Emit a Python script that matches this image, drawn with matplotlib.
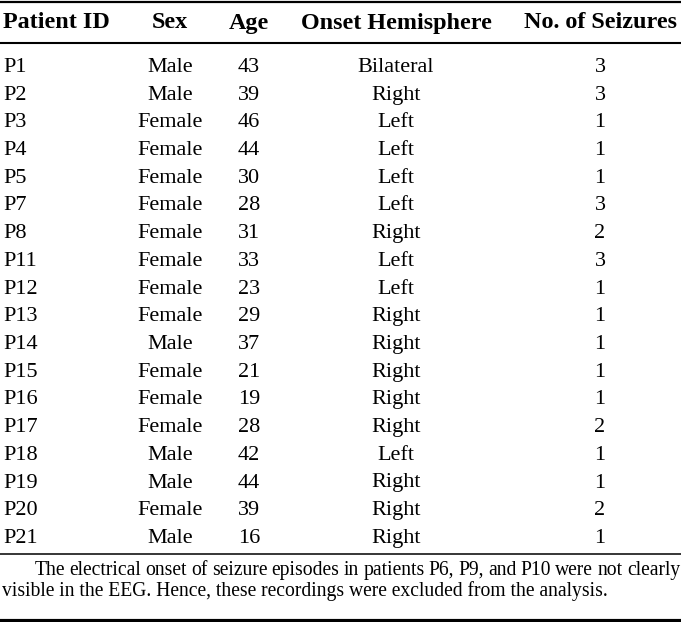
import matplotlib
matplotlib.use("Agg")
import matplotlib.pyplot as plt

# table data
header = ["Patient ID", "Sex", "Age", "Onset Hemisphere", "No. of Seizures"]
patients = ["P1", "P2", "P3", "P4", "P5", "P7", "P8", "P11", "P12", "P13",
            "P14", "P15", "P16", "P17", "P18", "P19", "P20", "P21"]
sex = ["Male", "Male", "Female", "Female", "Female", "Female", "Female", "Female", "Female",
       "Female", "Male", "Female", "Female", "Female", "Male", "Male", "Female", "Male"]
age = [43, 39, 46, 44, 30, 28, 31, 33, 23, 29, 37, 21, 19, 28, 42, 44, 39, 16]
hemisphere = ["Bilateral", "Right", "Left", "Left", "Left", "Left", "Right", "Left", "Left",
              "Right", "Right", "Right", "Right", "Right", "Left", "Right", "Right", "Right"]
seizures = [3, 3, 1, 1, 1, 3, 2, 3, 1, 1, 1, 1, 1, 2, 1, 1, 2, 1]
note1 = "The electrical onset of seizure episodes in patients P6, P9, and P10 were not clearly"
note2 = "visible in the EEG. Hence, these recordings were excluded from the analysis."

W, H = 681, 622
fig = plt.figure(figsize=(W / 100, H / 100), dpi=100)
ax = fig.add_axes([0, 0, 1, 1])
ax.set_xlim(0, W)
ax.set_ylim(H, 0)
ax.axis("off")

font = "Liberation Serif"
fs_head = 17.4
fs_body = 16
fs_note = 14.15

# column x positions and alignment
col_x = [3, 170, 249, 396, 600]
col_ha = ["left", "center", "center", "center", "center"]

# header
for x, ha, txt in zip(col_x, col_ha, header):
    ax.text(x, 28.5, txt, ha=ha, va="baseline", fontsize=fs_head, fontweight="bold",
            family=font, color="black")

# rules
ax.axhline(1.5, color="black", lw=1.6)
ax.axhline(43, color="black", lw=1.5)
ax.axhline(554, color="black", lw=1.1)
ax.axhline(620.5, color="black", lw=3.0)

# body rows
y0 = 72
dy = 27.7
for i in range(len(patients)):
    y = y0 + i * dy
    row = [patients[i], sex[i], str(age[i]), hemisphere[i], str(seizures[i])]
    for x, ha, txt in zip(col_x, col_ha, row):
        ax.text(x, y, txt, ha=ha, va="baseline", fontsize=fs_body, family=font, color="black")

# footnote, first line justified between x=35 and x=680
renderer = fig.canvas.get_renderer()
words = note1.split(" ")
widths = []
for w in words:
    t = ax.text(0, 0, w, fontsize=fs_note, family=font)
    bb = t.get_window_extent(renderer=renderer)
    widths.append(bb.width)
    t.remove()
left, right = 35, 680
gap = (right - left - sum(widths)) / (len(words) - 1)
x = left
for w, wd in zip(words, widths):
    ax.text(x, 575, w, ha="left", va="baseline", fontsize=fs_note, family=font, color="black")
    x += wd + gap
ax.text(2, 596, note2, ha="left", va="baseline", fontsize=fs_note, family=font, color="black")

fig.savefig("out.png", dpi=100)
